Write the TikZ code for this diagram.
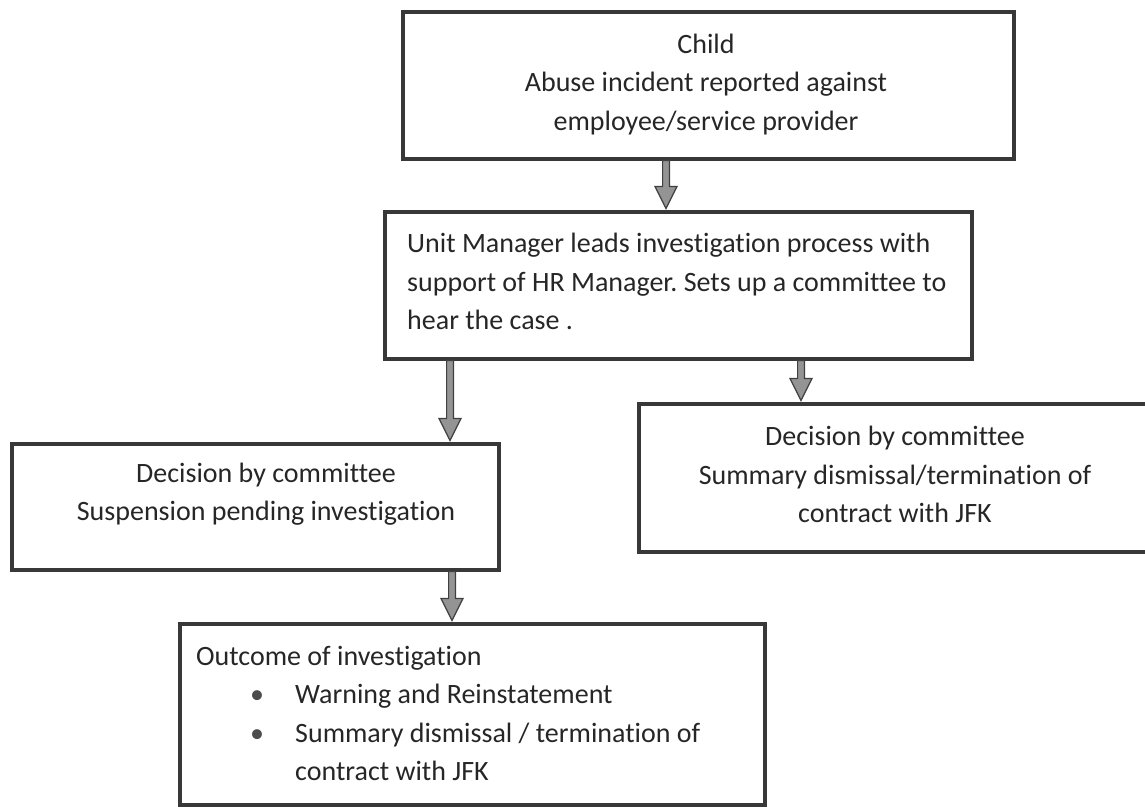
\documentclass[tikz,border=0pt]{standalone}
\usepackage{fontspec}
\setmainfont{Carlito}[Ligatures=CommonOff]
\usetikzlibrary{calc}
\frenchspacing
\begin{document}
\begin{tikzpicture}[x=1pt, y=-1pt,
  box/.style={draw=black!78, line width=3.5pt, rectangle, inner sep=0pt, anchor=north west},
  txt/.style={inner sep=0pt, text=black!85, font=\fontsize{28}{38.3}\selectfont},
  flow/.style={draw=black!75, line width=1.2pt, fill=black!42, line join=miter,
    to path={($(\tikztostart)+(-3.4,0)$) -- ($(\tikztotarget)+(-3.4,-22)$)
      -- ($(\tikztotarget)+(-11,-22)$) -- (\tikztotarget)
      -- ($(\tikztotarget)+(11,-22)$) -- ($(\tikztotarget)+(3.4,-22)$)
      -- ($(\tikztostart)+(3.4,0)$) -- cycle}}]
\useasboundingbox (0,0) rectangle (1145,807);

% boxes
\node[box, minimum width=611pt, minimum height=147pt] (b1) at (401,10) {};
\node[box, minimum width=587pt, minimum height=147pt] (b2) at (383,210) {};
\node[box, minimum width=487pt, minimum height=126pt] (b4) at (10,442) {};
\node[box, minimum width=518pt, minimum height=148pt] (b3) at (637,402) {};
\node[box, minimum width=585pt, minimum height=181pt] (b5) at (178,622) {};

% texts
\node[txt, align=center] (t1) at (706,84.5)
  {Child\\Abuse incident reported against\\employee/service provider};
\node[txt, align=left, anchor=west] (t2) at (407,281.5)
  {Unit Manager leads investigation process with\\support of HR Manager. Sets up a committee to\\hear the case .};
\node[txt, align=center] (t3) at (895,474.5)
  {Decision by committee\\Summary dismissal/termination of\\contract with JFK};
\node[txt, align=center] (t4) at (266,494.5)
  {Decision by committee\\Suspension pending investigation};
\node[txt, align=left, anchor=west] (t5) at (196,713.5)
  {Outcome of investigation\\
   \makebox[99pt][l]{\hspace*{54pt}\textcolor{black!70}{\textbullet}}Warning and Reinstatement\\
   \makebox[99pt][l]{\hspace*{54pt}\textcolor{black!70}{\textbullet}}Summary dismissal / termination of\\
   \hspace*{99pt}contract with JFK};

% connectors
\coordinate (ax1) at (666,0);
\coordinate (ax2) at (450,0);
\coordinate (ax3) at (801,0);
\coordinate (ax4) at (452,0);
\draw[flow] (b1.south -| ax1) to ([yshift=1.5pt]b2.north -| ax1);
\draw[flow] (b2.south -| ax2) to ([yshift=1.5pt]b4.north -| ax2);
\draw[flow] (b2.south -| ax3) to ([yshift=1.5pt]b3.north -| ax3);
\draw[flow] (b4.south -| ax4) to ([yshift=1.5pt]b5.north -| ax4);
\end{tikzpicture}
\end{document}
